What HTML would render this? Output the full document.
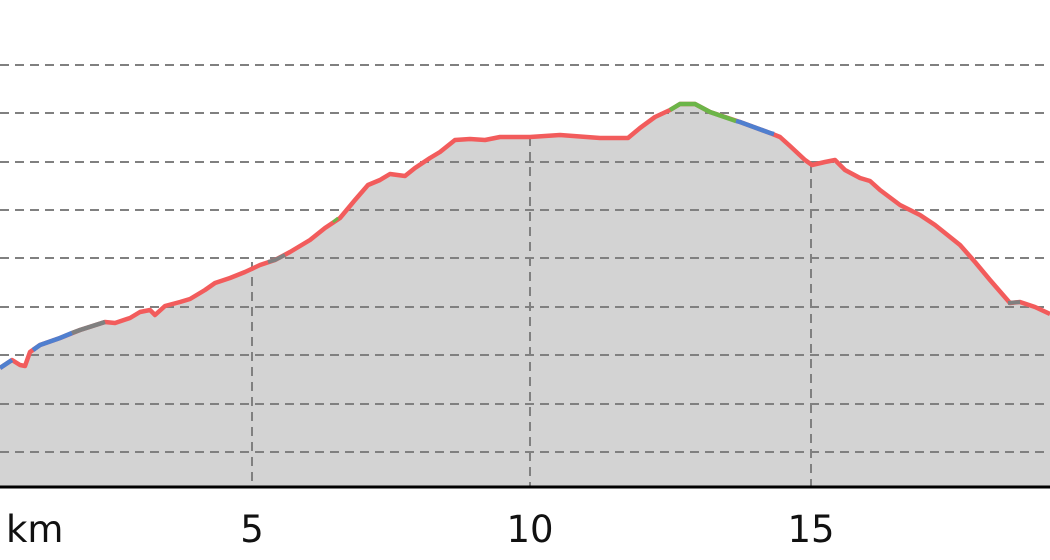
<!DOCTYPE html>
<html><head><meta charset="utf-8"><style>
html,body{margin:0;padding:0;background:#fff;width:1050px;height:560px;overflow:hidden}
svg{display:block}
text{font-family:"DejaVu Sans","Liberation Sans",sans-serif;font-size:37px;fill:#111}
</style></head><body>
<svg width="1050" height="560" viewBox="0 0 1050 560">
<polygon fill="#d3d3d3" points="0,487 0,368 12,360 20,365 25,366 30,352 40,345 60,338 80,330 105,322 115,323 130,318 140,312 150,310 155,315 165,306 180,302 190,299 205,290 215,283 230,278 245,272 260,265 275,260 290,252 310,240 325,228 340,218 355,200 368,185 380,180 390,174 405,176 415,168 430,158 440,152 455,140 470,139 485,140 500,137 530,137 560,135 600,138 628,138 640,128 655,117 670,110 680,104 695,104 710,112 740,122 770,133 780,137 790,146 805,160 812,165 825,162 835,160 845,170 860,178 870,181 880,190 900,205 920,215 935,225 960,245 975,262 990,280 1010,303 1020,302 1035,307 1050,314 1050,487"/>
<g stroke="#808080" stroke-width="2" stroke-dasharray="9,6" fill="none">
<line x1="0" y1="65" x2="1050" y2="65"/>
<line x1="0" y1="113" x2="1050" y2="113"/>
<line x1="0" y1="162" x2="1050" y2="162"/>
<line x1="0" y1="210" x2="1050" y2="210"/>
<line x1="0" y1="258" x2="1050" y2="258"/>
<line x1="0" y1="307" x2="1050" y2="307"/>
<line x1="0" y1="355" x2="1050" y2="355"/>
<line x1="0" y1="404" x2="1050" y2="404"/>
<line x1="0" y1="452" x2="1050" y2="452"/>
<line x1="252" y1="262" x2="252" y2="487"/>
<line x1="530" y1="137" x2="530" y2="487"/>
<line x1="811" y1="164" x2="811" y2="487"/>
</g>
<polyline fill="none" stroke="#f25c5c" stroke-width="4.5" stroke-linejoin="round" points="0,368 12,360 20,365 25,366 30,352 40,345 60,338 80,330 105,322 115,323 130,318 140,312 150,310 155,315 165,306 180,302 190,299 205,290 215,283 230,278 245,272 260,265 275,260 290,252 310,240 325,228 340,218 355,200 368,185 380,180 390,174 405,176 415,168 430,158 440,152 455,140 470,139 485,140 500,137 530,137 560,135 600,138 628,138 640,128 655,117 670,110 680,104 695,104 710,112 740,122 770,133 780,137 790,146 805,160 812,165 825,162 835,160 845,170 860,178 870,181 880,190 900,205 920,215 935,225 960,245 975,262 990,280 1010,303 1020,302 1035,307 1050,314"/>
<polyline fill="none" stroke="#4f7fcf" stroke-width="4.5" points="0,368 12,360"/>
<polyline fill="none" stroke="#4f7fcf" stroke-width="4.5" points="33,350 40,345 60,338 72,333"/>
<polyline fill="none" stroke="#808080" stroke-width="4.5" points="72,333 80,330 105,322"/>
<polyline fill="none" stroke="#6cb548" stroke-width="4.5" points="670,110 680,104 695,104 710,112 736,121"/>
<polyline fill="none" stroke="#4f7fcf" stroke-width="4.5" points="736,121 740,122 770,133 774,134"/>
<polyline fill="none" stroke="#808080" stroke-width="4" points="268,262 275,260 285,255"/>
<polyline fill="none" stroke="#6cb548" stroke-width="3" points="333,222 338,218"/>
<polyline fill="none" stroke="#808080" stroke-width="4" points="1008,303 1020,302"/>
<line x1="0" y1="487" x2="1050" y2="487" stroke="#000" stroke-width="3"/>
<text x="6" y="542">km</text>
<text x="252" y="542" text-anchor="middle">5</text>
<text x="530" y="542" text-anchor="middle">10</text>
<text x="811" y="542" text-anchor="middle">15</text>
</svg>
</body></html>
